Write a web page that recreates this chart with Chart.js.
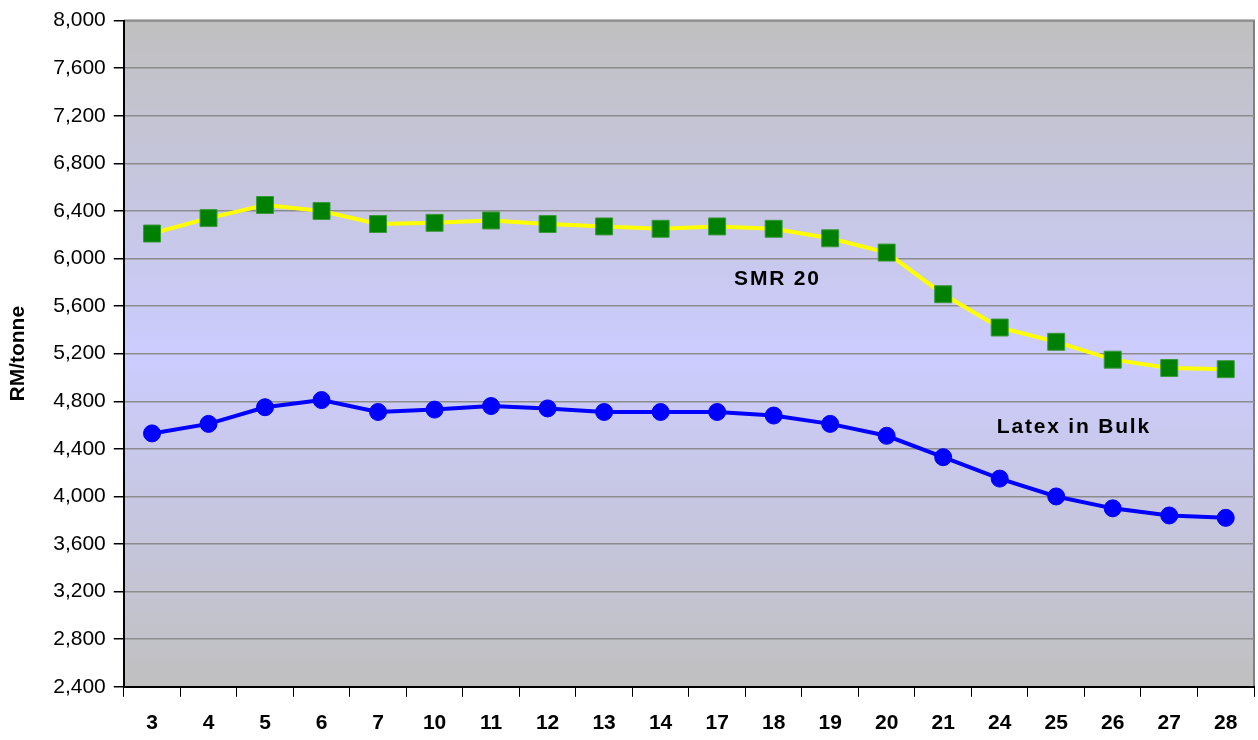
<!DOCTYPE html>
<html>
<head>
<meta charset="utf-8">
<script src="https://cdn.jsdelivr.net/npm/chart.js@4.4.0/dist/chart.umd.min.js"></script>
<style>
  html, body { margin: 0; padding: 0; background: #fff; }
  #wrap { width: 1258px; height: 740px; overflow: hidden; }
</style>
</head>
<body>
<div id="wrap"><canvas id="priceChart" width="1267" height="740"></canvas></div>
<script>
// days of the month
const days = ["3", "4", "5", "6", "7", "10", "11", "12", "13", "14", "17", "18", "19", "20", "21", "24", "25", "26", "27", "28"];
// RM per tonne
const smr20 = [6210, 6340, 6450, 6400, 6290, 6300, 6320, 6290, 6270, 6250, 6270, 6250, 6170, 6050, 5700, 5420, 5300, 5150, 5080, 5070];
const latexBulk = [4530, 4610, 4750, 4810, 4710, 4730, 4760, 4740, 4710, 4710, 4710, 4680, 4610, 4510, 4330, 4150, 4000, 3900, 3840, 3820];
const yTicks = [2400, 2800, 3200, 3600, 4000, 4400, 4800, 5200, 5600, 6000, 6400, 6800, 7200, 7600, 8000];
// series labels drawn inside the plot: [text, category index, value]
const seriesLabels = [
  ["SMR 20", 10.3, 5830],
  ["Latex in Bulk", 14.95, 4580]
];

const FONT = "'Liberation Sans', Arial, sans-serif";

// gray -> lavender -> gray fill behind the plot
const plotBackground = {
  id: "plotBackground",
  beforeDraw(chart) {
    const { ctx, chartArea: a } = chart;
    const g = ctx.createLinearGradient(0, a.top, 0, a.bottom);
    g.addColorStop(0, "#c0c0c0");
    g.addColorStop(0.5, "#ccccff");
    g.addColorStop(1, "#c0c0c0");
    ctx.save();
    ctx.fillStyle = g;
    ctx.fillRect(a.left, a.top, a.right - a.left, a.bottom - a.top);
    ctx.strokeStyle = "#808080";
    ctx.lineWidth = 2;
    ctx.beginPath();
    ctx.moveTo(a.left, a.top);
    ctx.lineTo(a.right, a.top);
    ctx.lineTo(a.right, a.bottom);
    ctx.stroke();
    ctx.restore();
  }
};

const inlineLabels = {
  id: "inlineLabels",
  afterDatasetsDraw(chart) {
    const { ctx, scales } = chart;
    ctx.save();
    ctx.fillStyle = "#000";
    ctx.font = "bold 21px " + FONT;
    ctx.textBaseline = "middle";
    ctx.textAlign = "left";
    if ("letterSpacing" in ctx) ctx.letterSpacing = "1.8px";
    seriesLabels.forEach(([text, idx, val]) => {
      ctx.fillText(text, scales.x.getPixelForValue(idx), scales.y.getPixelForValue(val));
    });
    ctx.restore();
  }
};

const ctx = document.getElementById("priceChart").getContext("2d");
new Chart(ctx, {
  type: "line",
  data: {
    labels: days,
    datasets: [
      {
        label: "SMR 20",
        data: smr20,
        borderColor: "#ffff00",
        borderWidth: 4,
        pointStyle: "rect",
        pointRadius: 12,
        pointBackgroundColor: "#008000",
        pointBorderColor: "#3a9a3a",
        pointBorderWidth: 1,
        tension: 0
      },
      {
        label: "Latex in Bulk",
        data: latexBulk,
        borderColor: "#0000ff",
        borderWidth: 4,
        pointStyle: "circle",
        pointRadius: 8.5,
        pointBackgroundColor: "#0000ff",
        pointBorderColor: "#0000ff",
        pointBorderWidth: 1,
        tension: 0
      }
    ]
  },
  options: {
    responsive: false,
    animation: false,
    layout: { padding: { left: 6, right: 0, top: 14, bottom: -10 } },
    plugins: {
      legend: { display: false },
      tooltip: { enabled: false }
    },
    scales: {
      x: {
        offset: true,
        grid: {
          offset: true,
          drawOnChartArea: false,
          color: "#000",
          tickLength: 10
        },
        border: { color: "#000", width: 2 },
        ticks: {
          color: "#000",
          padding: 14,
          maxRotation: 0,
          autoSkip: false,
          font: { family: FONT, size: 21, weight: "bold" }
        }
      },
      y: {
        min: 2400,
        max: 8000,
        afterBuildTicks(axis) {
          axis.ticks = yTicks.map(v => ({ value: v }));
        },
        grid: {
          color: "#8c8c8c",
          tickColor: "#000",
          tickLength: 10,
          lineWidth: 1.5
        },
        border: { color: "#000", width: 2 },
        ticks: {
          color: "#000",
          padding: 8,
          font: { family: FONT, size: 21 },
          callback: v => v.toLocaleString("en-US")
        },
        title: {
          display: true,
          text: "RM/tonne",
          color: "#000",
          padding: { top: 0, bottom: 14 },
          font: { family: FONT, size: 21, weight: "bold" }
        }
      }
    }
  },
  plugins: [plotBackground, inlineLabels]
});
</script>
</body>
</html>
